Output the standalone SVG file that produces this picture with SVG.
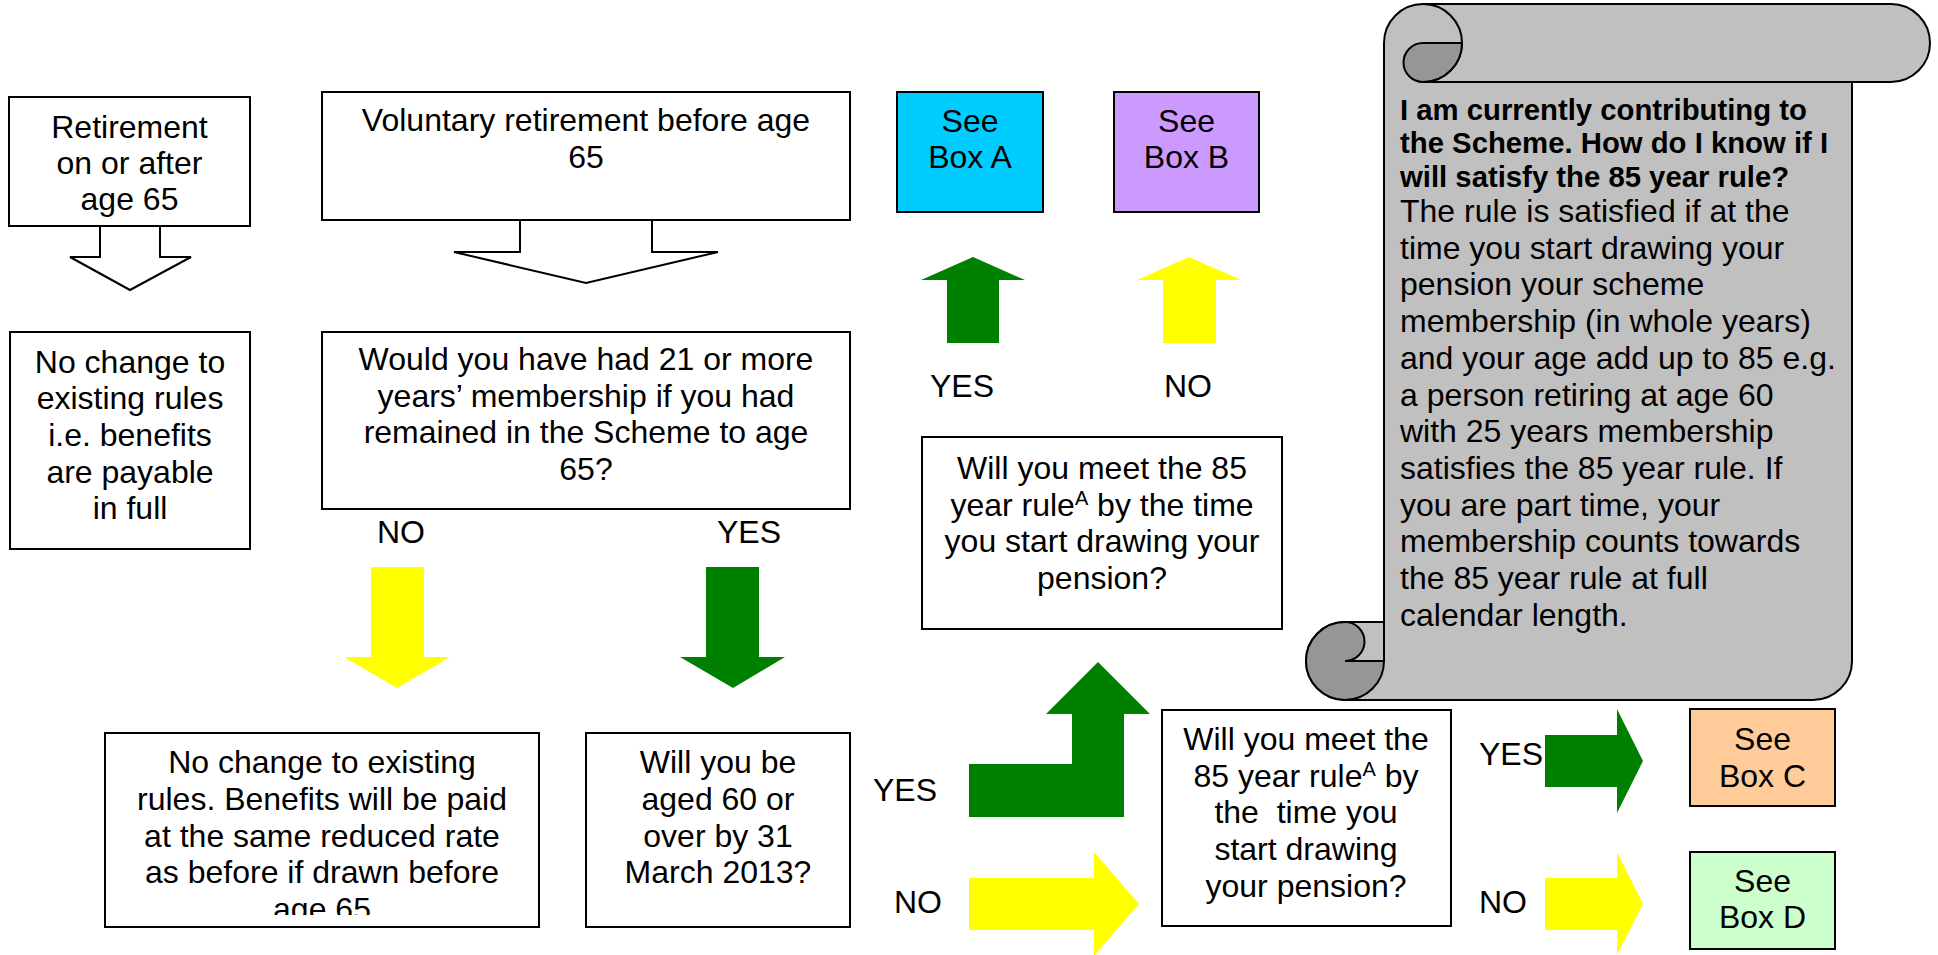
<svg xmlns="http://www.w3.org/2000/svg" width="1938" height="955" viewBox="0 0 1938 955">
<defs>
<style>
text { font-family: "Liberation Sans", Arial, sans-serif; font-size: 32px; fill: #000; }
.c { text-anchor: middle; }
.b { font-weight: bold; font-size: 29.3px; }
.box { fill: #fff; stroke: #000; stroke-width: 2; }
.hollow { fill: #fff; stroke: #000; stroke-width: 2; stroke-linejoin: miter; }
.g { fill: #008000; }
.y { fill: #FFFF00; }
.sc { fill: #C0C0C0; stroke: #000; stroke-width: 2; }
.dk { fill: #969696; stroke: #000; stroke-width: 2; }
.ln { fill: none; stroke: #000; stroke-width: 2; }
.sup { font-size: 20px; }
</style>
<clipPath id="clipNC">
<rect x="105" y="733" width="434" height="182"/>
</clipPath>
</defs>
<rect width="1938" height="955" fill="#fff"/>

<g id="connectors">
<path class="hollow" d="M100,226 V257 H70 L130,290 L191,257 H160 V226"/>
<path class="hollow" d="M520,220 V252 H454 L586,283 L718,252 H652 V220"/>
<polygon class="y" points="371,567 424,567 424,657 450,657 397,688 344,657 371,657"/>
<polygon class="g" points="706,567 759,567 759,657 785,657 733,688 680,657 706,657"/>
<polygon class="g" points="947,343 947,280 921,280 973,257 1025,280 999,280 999,343"/>
<polygon class="y" points="1163,343 1163,280 1137,280 1189,257 1241,280 1216,280 1216,343"/>
<polygon class="g" points="969,764 1072,764 1072,714 1046,714 1098,662 1150,714 1124,714 1124,817 969,817"/>
<polygon class="y" points="969,878 1094,878 1094,852 1139,904 1094,956 1094,930 969,930"/>
<polygon class="g" points="1545,735 1617,735 1617,709 1643,761 1617,813 1617,787 1545,787"/>
<polygon class="y" points="1545,878 1617,878 1617,852 1643,904 1617,955 1617,930 1545,930"/>
<text class="c" x="401" y="543">NO</text>
<text class="c" x="749" y="543">YES</text>
<text x="930" y="397">YES</text>
<text x="1164" y="397">NO</text>
<text x="873" y="801">YES</text>
<text x="894" y="913">NO</text>
<text x="1479" y="765">YES</text>
<text x="1479" y="913">NO</text>
</g>

<g id="n-retire65">
<rect class="box" x="9" y="97" width="241" height="129"/>
<text class="c" x="129.5" y="138">Retirement</text>
<text class="c" x="129.5" y="174">on or after</text>
<text class="c" x="129.5" y="210">age 65</text>
</g>

<g id="n-nochange-full">
<rect class="box" x="10" y="332" width="240" height="217"/>
<text class="c" x="130" y="372.5">No change to</text>
<text class="c" x="130" y="409">existing rules</text>
<text class="c" x="130" y="446">i.e. benefits</text>
<text class="c" x="130" y="482.5">are payable</text>
<text class="c" x="130" y="519">in full</text>
</g>

<g id="n-voluntary">
<rect class="box" x="322" y="92" width="528" height="128"/>
<text class="c" x="586" y="131">Voluntary retirement before age</text>
<text class="c" x="586" y="167.5">65</text>
</g>

<g id="n-21years">
<rect class="box" x="322" y="332" width="528" height="177"/>
<text class="c" x="586" y="370">Would you have had 21 or more</text>
<text class="c" x="586" y="407">years’ membership if you had</text>
<text class="c" x="586" y="443">remained in the Scheme to age</text>
<text class="c" x="586" y="480">65?</text>
</g>

<g id="n-nochange-reduced">
<rect class="box" x="105" y="733" width="434" height="194"/>
<g clip-path="url(#clipNC)">
<text class="c" x="322" y="773">No change to existing</text>
<text class="c" x="322" y="810">rules. Benefits will be paid</text>
<text class="c" x="322" y="846.5">at the same reduced rate</text>
<text class="c" x="322" y="883">as before if drawn before</text>
<text class="c" x="322" y="920">age 65</text>
</g>
</g>

<g id="n-aged60">
<rect class="box" x="586" y="733" width="264" height="194"/>
<text class="c" x="718" y="773">Will you be</text>
<text class="c" x="718" y="810">aged 60 or</text>
<text class="c" x="718" y="846.5">over by 31</text>
<text class="c" x="718" y="883">March 2013?</text>
</g>

<g id="n-boxA">
<rect class="box" x="897" y="92" width="146" height="120" style="fill:#00CCFF"/>
<text class="c" x="970" y="132">See</text>
<text class="c" x="970" y="168">Box A</text>
</g>

<g id="n-boxB">
<rect class="box" x="1114" y="92" width="145" height="120" style="fill:#CC99FF"/>
<text class="c" x="1186.5" y="132">See</text>
<text class="c" x="1186.5" y="168">Box B</text>
</g>

<g id="n-85rule-upper">
<rect class="box" x="922" y="437" width="360" height="192"/>
<text class="c" x="1102" y="479">Will you meet the 85</text>
<text class="c" x="1102" y="515.5">year rule<tspan class="sup" dy="-11">A</tspan><tspan dy="11"> by the time</tspan></text>
<text class="c" x="1102" y="552">you start drawing your</text>
<text class="c" x="1102" y="588.5">pension?</text>
</g>

<g id="n-85rule-lower">
<rect class="box" x="1162" y="710" width="289" height="216"/>
<text class="c" x="1306" y="750">Will you meet the</text>
<text class="c" x="1306" y="787">85 year rule<tspan class="sup" dy="-11">A</tspan><tspan dy="11"> by</tspan></text>
<text class="c" x="1306" y="823">the&#160; time you</text>
<text class="c" x="1306" y="860">start drawing</text>
<text class="c" x="1306" y="897">your pension?</text>
</g>

<g id="n-boxC">
<rect class="box" x="1690" y="709" width="145" height="97" style="fill:#FFCC99"/>
<text class="c" x="1762.5" y="750">See</text>
<text class="c" x="1762.5" y="787">Box C</text>
</g>

<g id="n-boxD">
<rect class="box" x="1690" y="852" width="145" height="97" style="fill:#CCFFCC"/>
<text class="c" x="1762.5" y="892">See</text>
<text class="c" x="1762.5" y="928">Box D</text>
</g>

<g id="n-scroll">
<path class="sc" d="M1384,43 A39,39 0 0 1 1423,4 H1891 A39,39 0 0 1 1891,82 H1852 V661 A39,39 0 0 1 1813,700 H1345 A39,39 0 0 1 1345,622 H1384 Z"/>
<path class="ln" d="M1423,82 H1852"/>
<path class="ln" d="M1423,4 A39,39 0 0 1 1423,82"/>
<path class="dk" d="M1423,43 H1462 A39,39 0 0 1 1423,82 A19.5,19.5 0 0 1 1423,43 Z"/>
<path class="dk" d="M1345,700 A39,39 0 0 1 1345,622 A19.5,19.5 0 0 1 1345,661 H1384 A39,39 0 0 1 1345,700 Z"/>
<path class="ln" d="M1384,622 V661"/>
<text class="b" x="1400" y="119.5">I am currently contributing to</text>
<text class="b" x="1400" y="153">the Scheme. How do I know if I</text>
<text class="b" x="1400" y="186.5">will satisfy the 85 year rule?</text>
<text x="1400" y="222">The rule is satisfied if at the</text>
<text x="1400" y="258.7">time you start drawing your</text>
<text x="1400" y="295.4">pension your scheme</text>
<text x="1400" y="332">membership (in whole years)</text>
<text x="1400" y="368.8">and your age add up to 85 e.g.</text>
<text x="1400" y="405.5">a person retiring at age 60</text>
<text x="1400" y="442">with 25 years membership</text>
<text x="1400" y="478.9">satisfies the 85 year rule. If</text>
<text x="1400" y="515.6">you are part time, your</text>
<text x="1400" y="552">membership counts towards</text>
<text x="1400" y="589">the 85 year rule at full</text>
<text x="1400" y="625.7">calendar length.</text>
</g>
</svg>
